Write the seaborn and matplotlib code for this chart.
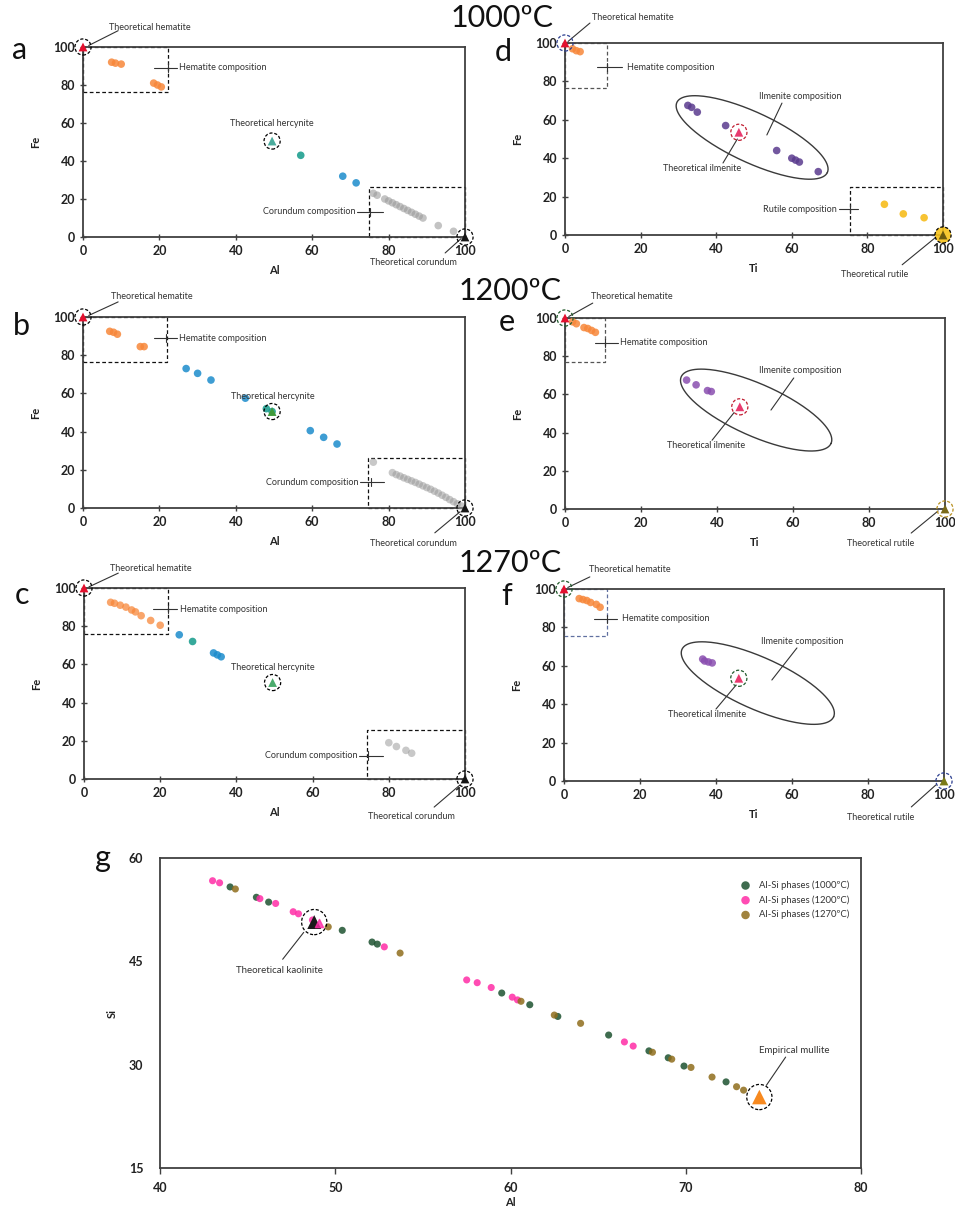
import numpy as np
import matplotlib
matplotlib.use('Agg')
import matplotlib.pyplot as plt
import seaborn as sns

sns.set_theme(style='white')
plt.rcParams['font.family'] = ['Lato', 'DejaVu Sans']

# ------------------------------------------------------------------ data
# panel a : 1000 C, Al vs Fe
a_hem_al = [7.5, 8.5, 10.0, 18.5, 19.5, 20.5]
a_hem_fe = [92.0, 91.5, 91.0, 81.0, 80.0, 79.0]
a_her_al = [57.0]
a_her_fe = [43.0]
a_spl_al = [68.0, 71.5]
a_spl_fe = [32.0, 28.5]
a_cor_al = [76, 77, 79, 80, 81, 82, 83, 84, 85, 86, 87, 88, 89, 93, 97]
a_cor_fe = [23, 22, 20, 19, 18, 17, 16, 15, 14, 13, 12, 11, 10, 6, 3]

# panel b : 1200 C, Al vs Fe
b_hem_al = [7.0, 8.0, 9.0, 15.0, 16.0]
b_hem_fe = [92.5, 92.0, 91.0, 84.5, 84.5]
b_her_al = [48.0, 49.5]
b_her_fe = [52.0, 50.5]
b_spl_al = [27.0, 30.0, 33.5, 42.5, 59.5, 63.0, 66.5]
b_spl_fe = [73.0, 70.5, 67.0, 57.5, 40.5, 37.0, 33.5]
b_cor_al = [76, 81, 82, 83, 84, 85, 86, 87, 88, 89, 90, 91, 92, 93, 94, 95, 96, 97, 98, 99]
b_cor_fe = [24, 18.5, 17.5, 16.7, 15.8, 15, 14.2, 13.4, 12.5, 11.6, 10.7, 9.8, 8.8,
            7.8, 6.7, 5.6, 4.4, 3.3, 2.2, 1.1]

# panel c : 1270 C, Al vs Fe
c_hem_al = [7.0, 8.0, 9.5, 11.0, 12.5, 13.5, 15.0, 17.5, 20.0]
c_hem_fe = [92.5, 92.0, 91.0, 90.0, 88.5, 87.5, 85.5, 83.0, 80.5]
c_her_al = [28.5]
c_her_fe = [72.0]
c_spl_al = [25.0, 34.0, 35.0, 36.0]
c_spl_fe = [75.5, 66.0, 65.0, 64.0]
c_cor_al = [80.0, 82.0, 84.5, 86.0]
c_cor_fe = [19.0, 17.0, 15.0, 13.5]

# panel d : 1000 C, Ti vs Fe
d_hem_ti = [2.0, 3.0, 4.0]
d_hem_fe = [97.0, 96.0, 95.5]
d_ilm_ti = [32.5, 33.5, 35.0, 42.5, 56.0, 60.0, 61.0, 62.0, 67.0]
d_ilm_fe = [67.5, 66.5, 64.0, 57.0, 44.0, 40.0, 39.0, 38.0, 33.0]
d_rut_ti = [84.5, 89.5, 95.0]
d_rut_fe = [16.0, 11.0, 9.0]

# panel e : 1200 C, Ti vs Fe
e_hem_ti = [2.0, 3.0, 5.0, 6.0, 7.0, 8.0]
e_hem_fe = [98.0, 97.0, 95.0, 94.5, 93.5, 92.5]
e_ilm_ti = [32.0, 34.5, 37.5, 38.5]
e_ilm_fe = [67.5, 65.0, 62.0, 61.5]

# panel f : 1270 C, Ti vs Fe
f_hem_ti = [4.0, 5.0, 6.0, 7.0, 8.5, 9.5]
f_hem_fe = [95.0, 94.5, 94.0, 93.0, 92.0, 90.5]
f_ilm_ti = [36.5, 37.0, 38.0, 39.0]
f_ilm_fe = [63.5, 62.5, 62.0, 61.5]

# theoretical end-members (x, Fe)
hematite = (0.0, 100.0)
hercynite = (49.5, 50.5)
corundum = (100.0, 0.0)
ilmenite = (46.0, 53.5)
rutile = (100.0, 0.0)

# panel g : Al vs Si
g1000_al = [44.0, 45.5, 46.2, 50.4, 52.1, 52.4, 59.5, 61.1, 62.7, 65.6, 67.9, 69.0, 69.9, 72.3]
g1000_si = [55.8, 54.3, 53.6, 49.5, 47.8, 47.5, 40.4, 38.7, 37.0, 34.3, 32.0, 31.0, 29.8, 27.5]
g1200_al = [43.0, 43.4, 45.7, 46.6, 47.6, 47.9, 48.7, 52.8, 57.5, 58.1, 58.9, 60.1, 60.4, 66.5, 67.0]
g1200_si = [56.7, 56.4, 54.1, 53.4, 52.2, 51.9, 51.0, 47.1, 42.3, 41.9, 41.2, 39.8, 39.4, 33.3, 32.7]
g1270_al = [44.3, 49.6, 53.7, 60.6, 62.5, 64.0, 68.1, 69.2, 70.3, 71.5, 72.9, 73.3]
g1270_si = [55.5, 50.0, 46.2, 39.2, 37.2, 36.0, 31.8, 30.8, 29.6, 28.2, 26.8, 26.3]
kaolinite = (48.8, 50.7)
mullite = (74.2, 25.3)
g_labels = ['Al-Si phases (1000ºC)', 'Al-Si phases (1200ºC)', 'Al-Si phases (1270ºC)']

titles = ['1000ºC', '1200ºC', '1270ºC']
ticks_ab = [0, 20, 40, 60, 80, 100]
ticks_gx = [40, 50, 60, 70, 80]
ticks_gy = [15, 30, 45, 60]

# ------------------------------------------------------------------ colours
HEM_C = '#f7873a'
HER_C = '#139a8a'
SPL_C = '#1c8ccc'
COR_C = '#9b9b9b'
ILM_C = '#5a3b8e'
ILM_C2 = '#8a4fb0'
RUT_C = '#f5b400'
TXT_C = '#333333'
G_COLS = ['#1d5230', '#ff2ca6', '#8f6d1c']

# ------------------------------------------------------------------ figure
W, H = 955, 1217
fig = plt.figure(figsize=(W / 100, H / 100), dpi=100)
fig.patch.set_facecolor('white')


def px_axes(l, t, r, b):
    return fig.add_axes([l / W, 1 - b / H, (r - l) / W, (b - t) / H])


def style_ax(ax, xlabel, ylabel, xlim, ylim, xt, yt):
    ax.set_xlim(*xlim)
    ax.set_ylim(*ylim)
    ax.set_xticks(xt, [str(v) for v in xt], fontweight='bold', fontsize=9, color='#222222')
    ax.set_yticks(yt, [str(v) for v in yt], fontweight='bold', fontsize=9, color='#222222')
    ax.set_xlabel(xlabel, fontsize=8, fontweight='bold', color='#222222', labelpad=6)
    ax.set_ylabel(ylabel, fontsize=8, fontweight='bold', color='#222222', labelpad=9)
    for sp in ax.spines.values():
        sp.set_color('#404040')
        sp.set_linewidth(1.3)
    ax.set_facecolor('white')
    ax.grid(False)


def pts(ax, x, y, color, s=30, alpha=0.85, marker='o', z=3):
    sns.scatterplot(x=x, y=y, ax=ax, color=color, s=s, alpha=alpha, marker=marker,
                    edgecolor='none', linewidth=0, clip_on=False, zorder=z, legend=False)


def theo(ax, xy, color, s=40, ring_s=135, ring_c='black', fill=None):
    if fill is not None:
        ax.scatter([xy[0]], [xy[1]], s=ring_s, color=fill, alpha=0.9, clip_on=False, zorder=5,
                   edgecolors='none')
    ax.scatter([xy[0]], [xy[1]], s=ring_s, facecolors='none', edgecolors=ring_c,
               linewidths=0.9, linestyles=(0, (2.5, 1.5)), clip_on=False, zorder=6)
    sns.scatterplot(x=[xy[0]], y=[xy[1]], ax=ax, color=color, s=s, marker='^',
                    edgecolor='none', clip_on=False, zorder=7, legend=False)


def line(ax, x0, y0, x1, y1, lw=0.8):
    ax.plot([x0, x1], [y0, y1], color=TXT_C, lw=lw, clip_on=False, zorder=4)


def note(ax, x, y, s, ha='center', size=6.5, style='normal'):
    ax.text(x, y, s, ha=ha, va='center', fontsize=size, color=TXT_C, clip_on=False,
            zorder=8, style=style)


def callout(ax, x0, x1, xt, y, dy=2.2):
    line(ax, x0, y, x1, y)
    line(ax, xt, y - dy, xt, y + dy)


def dbox(ax, x0, x1, y0, y1, color='#111111'):
    ax.plot([x0, x1, x1, x0, x0], [y0, y0, y1, y1, y0], color=color, lw=0.9,
            ls=(0, (3, 2)), zorder=2, clip_on=False)


def ellipse(ax, cx, cy, a_px, b_px, ang_deg):
    # ellipse drawn in pixel space, converted to data coordinates
    bb = ax.get_window_extent()
    sx = bb.width / (ax.get_xlim()[1] - ax.get_xlim()[0])
    sy = bb.height / (ax.get_ylim()[1] - ax.get_ylim()[0])
    t = np.linspace(0, 2 * np.pi, 200)
    th = np.deg2rad(-ang_deg)
    u = a_px * np.cos(t)
    v = b_px * np.sin(t)
    dx = u * np.cos(th) - v * np.sin(th)
    dy = u * np.sin(th) + v * np.cos(th)
    ax.plot(cx + dx / sx, cy + dy / sy, color='#3a3a3a', lw=1.0, zorder=2)


ax_a = px_axes(83, 47, 465, 237)
ax_d = px_axes(565, 43, 943, 235)
ax_b = px_axes(83, 317, 465, 508)
ax_e = px_axes(565, 318, 945, 509)
ax_c = px_axes(84, 588, 465, 779)
ax_f = px_axes(564, 589, 944, 781)
ax_g = px_axes(160, 858, 861, 1168)

for ax in (ax_a, ax_b, ax_c):
    style_ax(ax, 'Al', 'Fe', (0, 100), (0, 100), ticks_ab, ticks_ab)
for ax in (ax_d, ax_e, ax_f):
    style_ax(ax, 'Ti', 'Fe', (0, 100), (0, 100), ticks_ab, ticks_ab)
for ax in (ax_a, ax_b, ax_c, ax_d, ax_e, ax_f):
    ax.tick_params(axis='both', direction='inout', length=5, width=1, color='#404040',
                   bottom=True, left=True, pad=3)

# ------------------------------------------------------------------ panel a
ax = ax_a
dbox(ax, 0, 22.2, 76.3, 100)
dbox(ax, 74.9, 100, 0, 26.3)
pts(ax, a_hem_al, a_hem_fe, HEM_C)
pts(ax, a_her_al, a_her_fe, HER_C)
pts(ax, a_spl_al, a_spl_fe, SPL_C)
pts(ax, a_cor_al, a_cor_fe, COR_C, alpha=0.6)
theo(ax, hematite, '#e3102e')
theo(ax, hercynite, '#4aab9c')
theo(ax, corundum, '#151515')
note(ax, 17.5, 110.5, 'Theoretical hematite')
line(ax, 9.2, 108.6, 1.5, 100.8)
note(ax, 25.2, 89.2, 'Hematite composition', ha='left')
callout(ax, 18.5, 24.6, 22.2, 89.2)
note(ax, 49.5, 59.5, 'Theoretical hercynite')
note(ax, 71.3, 13.2, 'Corundum composition', ha='right')
callout(ax, 71.8, 78.5, 75.0, 13.2)
note(ax, 86.4, -13.4, 'Theoretical corundum')
line(ax, 94.8, -8.4, 99.0, -0.8)

# ------------------------------------------------------------------ panel b
ax = ax_b
dbox(ax, 0, 21.9, 76.6, 100)
dbox(ax, 74.6, 100, 0, 26.0)
pts(ax, b_hem_al, b_hem_fe, HEM_C)
pts(ax, b_spl_al, b_spl_fe, SPL_C)
pts(ax, b_her_al, b_her_fe, HER_C)
pts(ax, b_cor_al, b_cor_fe, COR_C, alpha=0.55)
theo(ax, hematite, '#e3102e')
theo(ax, hercynite, '#3f9a3a')
theo(ax, corundum, '#151515')
note(ax, 18.0, 110.5, 'Theoretical hematite')
line(ax, 9.2, 107.9, 1.5, 100.8)
note(ax, 25.0, 89.0, 'Hematite composition', ha='left')
callout(ax, 18.5, 24.5, 21.8, 89.0)
note(ax, 49.8, 58.6, 'Theoretical hercynite')
note(ax, 72.0, 13.6, 'Corundum composition', ha='right')
callout(ax, 72.4, 78.9, 75.5, 13.6)
note(ax, 86.4, -18.8, 'Theoretical corundum')
line(ax, 92.1, -13.0, 98.7, -2.0)

# ------------------------------------------------------------------ panel c
ax = ax_c
dbox(ax, 0, 22.0, 76.0, 100)
dbox(ax, 74.4, 100, 0, 25.5)
pts(ax, c_hem_al, c_hem_fe, HEM_C, alpha=0.75)
pts(ax, c_spl_al, c_spl_fe, SPL_C)
pts(ax, c_her_al, c_her_fe, HER_C)
pts(ax, c_cor_al, c_cor_fe, COR_C, alpha=0.55)
theo(ax, hematite, '#e3102e')
theo(ax, hercynite, '#4aab6c')
theo(ax, corundum, '#151515')
note(ax, 17.6, 110.0, 'Theoretical hematite')
line(ax, 9.0, 107.8, 1.3, 100.6)
note(ax, 25.2, 89.0, 'Hematite composition', ha='left')
callout(ax, 18.1, 24.4, 22.0, 89.0)
note(ax, 49.6, 58.6, 'Theoretical hercynite')
note(ax, 71.7, 12.2, 'Corundum composition', ha='right')
callout(ax, 72.3, 78.6, 74.6, 12.2)
note(ax, 86.0, -19.4, 'Theoretical corundum')
line(ax, 91.9, -14.7, 98.7, -3.1)

# ------------------------------------------------------------------ panel d
ax = ax_d
dbox(ax, 0, 11.0, 76.5, 100, color='#555555')
dbox(ax, 75.4, 100, 0, 25.0)
pts(ax, d_hem_ti, d_hem_fe, HEM_C)
pts(ax, d_ilm_ti, d_ilm_fe, ILM_C)
pts(ax, d_rut_ti, d_rut_fe, RUT_C, alpha=0.8)
ellipse(ax, 49.5, 50.8, 83, 25, 25)
theo(ax, hematite, '#e3102e', ring_c='#2a3d8f')
theo(ax, ilmenite, '#e83a6e', ring_c='#c01c30')
theo(ax, rutile, '#6b5a10', fill='#f7c21a')
note(ax, 18.0, 113.5, 'Theoretical hematite')
line(ax, 6.6, 110.4, 0.8, 100.8)
note(ax, 16.4, 87.5, 'Hematite composition', ha='left')
callout(ax, 8.5, 15.0, 11.0, 87.5)
note(ax, 62.2, 71.9, 'Ilmenite composition')
line(ax, 57.4, 68.7, 53.4, 52.1)
note(ax, 36.2, 34.4, 'Theoretical ilmenite')
line(ax, 41.8, 37.5, 45.6, 50.0)
note(ax, 72.0, 13.5, 'Rutile composition', ha='right')
callout(ax, 72.4, 77.5, 75.4, 13.5)
note(ax, 82.0, -20.5, 'Theoretical rutile')
line(ax, 89.2, -15.5, 97.9, -1.5)

# ------------------------------------------------------------------ panel e
ax = ax_e
dbox(ax, 0, 10.5, 77.0, 100, color='#555555')
pts(ax, e_hem_ti, e_hem_fe, HEM_C)
pts(ax, e_ilm_ti, e_ilm_fe, ILM_C2)
ellipse(ax, 50.3, 51.8, 82, 26, 24)
theo(ax, hematite, '#e3102e', ring_c='#1f5a2a')
theo(ax, ilmenite, '#e83a6e', ring_c='#c01c30')
theo(ax, rutile, '#7a6a18', ring_c='#b89020')
note(ax, 17.5, 111.0, 'Theoretical hematite')
line(ax, 7.3, 107.8, 1.0, 100.8)
note(ax, 14.4, 87.0, 'Hematite composition', ha='left')
callout(ax, 7.9, 13.9, 10.5, 87.0)
note(ax, 62.0, 72.3, 'Ilmenite composition')
line(ax, 60.2, 68.6, 54.2, 51.8)
note(ax, 37.2, 33.5, 'Theoretical ilmenite')
line(ax, 38.7, 36.0, 44.5, 50.5)
note(ax, 83.0, -18.3, 'Theoretical rutile')
line(ax, 91.1, -12.6, 98.2, -1.0)

# ------------------------------------------------------------------ panel f
ax = ax_f
dbox(ax, 0, 11.3, 75.5, 100, color='#6070a0')
pts(ax, f_hem_ti, f_hem_fe, HEM_C)
pts(ax, f_ilm_ti, f_ilm_fe, ILM_C2)
ellipse(ax, 51.0, 51.0, 83, 26, 24)
theo(ax, hematite, '#e3102e', ring_c='#1f5a2a')
theo(ax, ilmenite, '#e83a6e', ring_c='#1f5a2a')
theo(ax, rutile, '#7a7a18', ring_c='#2a3d8f')
note(ax, 17.3, 110.4, 'Theoretical hematite')
line(ax, 6.8, 106.3, 1.0, 100.8)
note(ax, 15.2, 84.4, 'Hematite composition', ha='left')
callout(ax, 7.9, 14.0, 11.3, 84.4)
note(ax, 62.6, 72.4, 'Ilmenite composition')
line(ax, 61.3, 69.3, 54.7, 52.6)
note(ax, 37.7, 34.4, 'Theoretical ilmenite')
line(ax, 40.0, 37.5, 45.3, 50.0)
note(ax, 83.2, -18.8, 'Theoretical rutile')
line(ax, 91.4, -13.5, 97.9, -2.0)

# ------------------------------------------------------------------ panel g
ax = ax_g
style_ax(ax, 'Al', 'Si', (40, 80), (15, 60), ticks_gx, ticks_gy)
ax.tick_params(axis='x', direction='out', length=4, width=1, color='#404040', bottom=True, pad=6)
ax.tick_params(axis='y', length=0, pad=12)
ax.xaxis.labelpad = 2
ax.yaxis.labelpad = 8
for al, si, col, lab in ((g1000_al, g1000_si, G_COLS[0], g_labels[0]),
                         (g1200_al, g1200_si, G_COLS[1], g_labels[1]),
                         (g1270_al, g1270_si, G_COLS[2], g_labels[2])):
    sns.scatterplot(x=al, y=si, ax=ax, color=col, s=26, alpha=0.85, edgecolor='none',
                    label=lab, zorder=3)
theo(ax, kaolinite, '#1a1a1a', s=100, ring_s=330)
ax.scatter([kaolinite[0] + 0.25], [kaolinite[1] - 0.2], s=35, color='#ff2ca6', marker='^',
           zorder=7, alpha=0.8)
theo(ax, mullite, '#f7891f', s=110, ring_s=330)
note(ax, 46.8, 43.7, 'Theoretical kaolinite', size=7)
line(ax, 47.0, 45.3, 48.2, 49.2)
note(ax, 76.2, 32.0, 'Empirical mullite', size=7)
line(ax, 75.7, 31.1, 74.6, 27.0)
leg = ax.legend(loc='upper right', bbox_to_anchor=(0.995, 0.955), frameon=False,
                fontsize=6.8, handletextpad=0.4, labelspacing=0.55, markerscale=1.2)
for t in leg.get_texts():
    t.set_color(TXT_C)

# ------------------------------------------------------------------ titles & letters
fig.text(502 / W, 1 - 18 / H, titles[0], ha='center', va='center', fontsize=22, color='#111111')
fig.text(510 / W, 1 - 291 / H, titles[1], ha='center', va='center', fontsize=22, color='#111111')
fig.text(510 / W, 1 - 563 / H, titles[2], ha='center', va='center', fontsize=22, color='#111111')
for lab, x, y in (('a', 20, 50), ('d', 503, 52), ('b', 21, 326), ('e', 507, 322),
                  ('c', 22, 595), ('f', 507, 596), ('g', 103, 858)):
    fig.text(x / W, 1 - y / H, lab, ha='center', va='center', fontsize=22, color='#111111')

fig.savefig('out.png', dpi=100, facecolor='white')
